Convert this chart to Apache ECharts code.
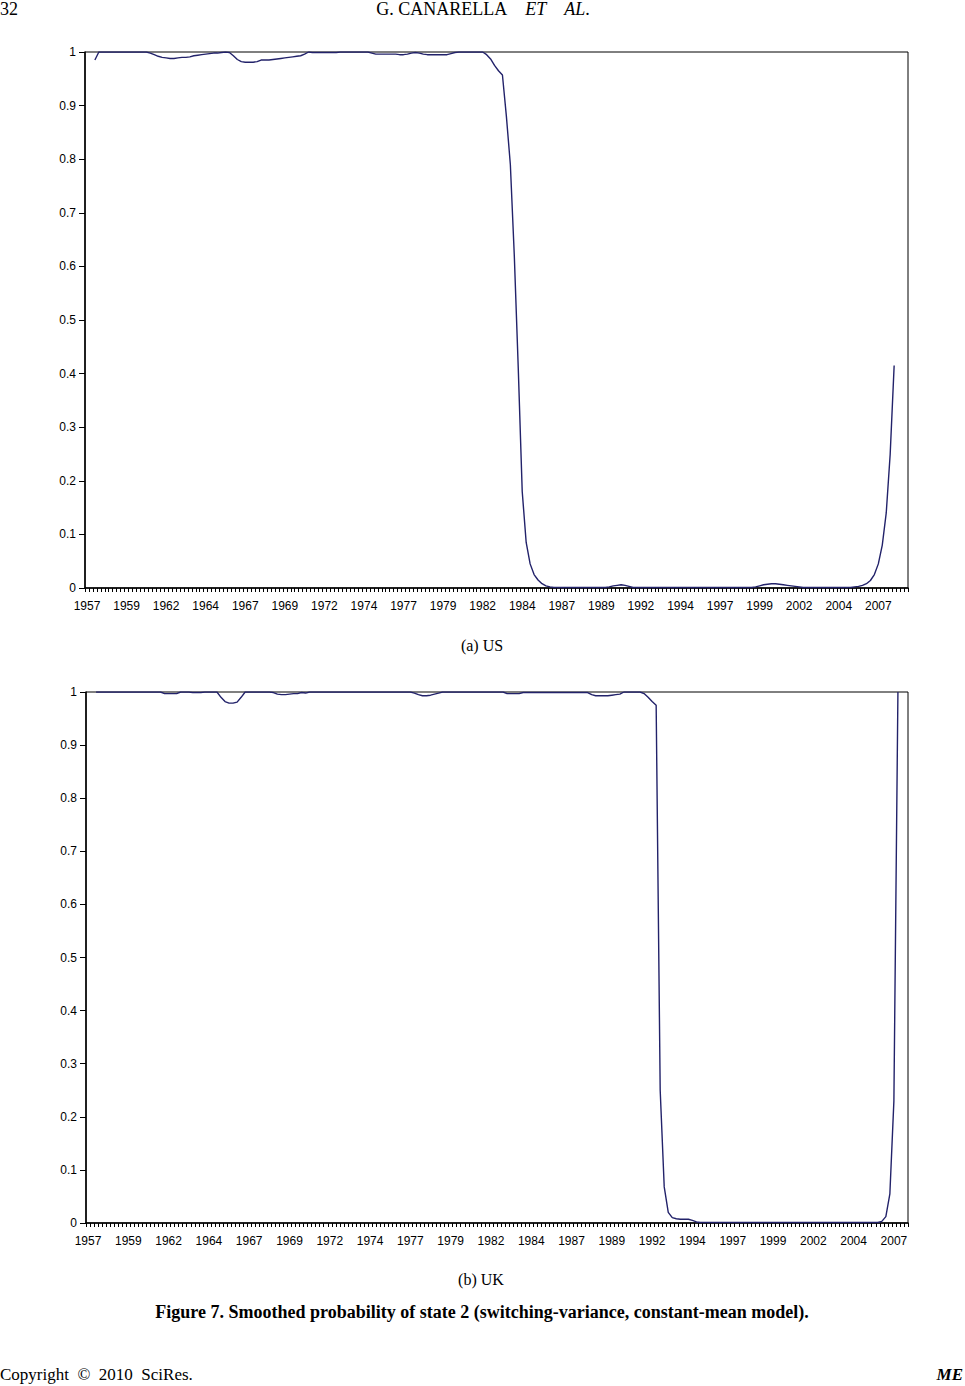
<!DOCTYPE html>
<html>
<head>
<meta charset="utf-8">
<script src="https://cdn.jsdelivr.net/npm/echarts@6/dist/echarts.min.js"></script>
<style>
  html, body { margin: 0; padding: 0; background: #fff; }
  #page { position: relative; width: 965px; height: 1386px; overflow: hidden; }
  #chart { position: absolute; left: 0; top: 0; width: 965px; height: 1386px; }
  .txt { position: absolute; font-family: "Liberation Serif", "DejaVu Serif", serif; color: #000; white-space: nowrap; }
</style>
</head>
<body>
<div id="page">
  <div id="chart"></div>
  <div class="txt" style="left:0px; top:-1px; font-size:18px;">32</div>
  <div class="txt" style="left:483px; top:-1px; font-size:18px; transform:translateX(-50%);">G. CANARELLA&nbsp;&nbsp;&nbsp;&nbsp;<i>ET</i>&nbsp;&nbsp;&nbsp;&nbsp;<i>AL</i>.</div>
  <div class="txt" style="left:482px; top:637px; font-size:16px; transform:translateX(-50%);">(a) US</div>
  <div class="txt" style="left:481px; top:1271px; font-size:16px; transform:translateX(-50%);">(b) UK</div>
  <div class="txt" style="left:482px; top:1302px; font-size:18px; font-weight:bold; transform:translateX(-50%);">Figure 7. Smoothed probability of state 2 (switching-variance, constant-mean model).</div>
  <div class="txt" style="left:0px; top:1365px; font-size:17px;">Copyright&nbsp;&nbsp;©&nbsp;&nbsp;2010&nbsp;&nbsp;SciRes.</div>
  <div class="txt" style="right:2px; top:1365px; font-size:17px; font-weight:bold; font-style:italic;">ME</div>
</div>
<script>
// quarterly categories: US 1957Q1-2008Q4, UK 1957Q1-2007Q4
var quartersUS = [];
for (var y = 1957; y <= 2008; y++) for (var q = 1; q <= 4; q++) quartersUS.push(y + 'Q' + q);
var quartersUK = quartersUS.slice(0, 204);

var yTicks = [0, 0.1, 0.2, 0.3, 0.4, 0.5, 0.6, 0.7, 0.8, 0.9, 1];

// (a) US smoothed probability, one row per year (4 quarters)
var probUS = [
  null, null, 0.985, 1,
  1, 1, 1, 1,
  1, 1, 1, 1,
  1, 1, 1, 1.0,
  0.998, 0.995, 0.992, 0.99,
  0.989, 0.988, 0.988, 0.989,
  0.99, 0.99, 0.991, 0.993,
  0.994, 0.995, 0.996, 0.997,
  0.998, 0.998, 0.999, 1.0,
  0.999, 0.993, 0.986, 0.982,
  0.981, 0.981, 0.981, 0.982,
  0.985, 0.985, 0.985, 0.986,
  0.987, 0.988, 0.989, 0.99,
  0.991, 0.992, 0.993, 0.996,
  1.0, 0.999, 0.999, 0.999,
  0.999, 0.999, 0.999, 0.999,
  1, 1, 1, 1,
  1, 1, 1, 1,
  0.998, 0.996, 0.996, 0.996,
  0.996, 0.996, 0.996, 0.995,
  0.995, 0.996, 0.998, 0.999,
  0.998, 0.996, 0.995, 0.995,
  0.995, 0.995, 0.995, 0.995,
  0.997, 0.999, 1, 1,
  1, 1, 1, 1,
  1.0, 0.995, 0.987, 0.975,
  0.965, 0.957, 0.88, 0.79,
  0.62, 0.41, 0.18, 0.085,
  0.045, 0.025, 0.015, 0.008,
  0.004, 0.002, 0.001, 0.001,
  0.001, 0.001, 0.001, 0.001,
  0.001, 0.001, 0.001, 0.001,
  0.001, 0.001, 0.001, 0.001,
  0.002, 0.004, 0.005, 0.006,
  0.005, 0.003, 0.001, 0.001,
  0.001, 0.001, 0.001, 0.001,
  0.001, 0.001, 0.001, 0.001,
  0.001, 0.001, 0.001, 0.001,
  0.001, 0.001, 0.001, 0.001,
  0.001, 0.001, 0.001, 0.001,
  0.001, 0.001, 0.001, 0.001,
  0.001, 0.001, 0.001, 0.001,
  0.001, 0.002, 0.004, 0.006,
  0.007, 0.008, 0.008, 0.007,
  0.006, 0.005, 0.004, 0.003,
  0.002, 0.001, 0.001, 0.001,
  0.001, 0.001, 0.001, 0.001,
  0.001, 0.001, 0.001, 0.001,
  0.001, 0.001, 0.002, 0.003,
  0.005, 0.008, 0.014, 0.025,
  0.045, 0.08, 0.14, 0.25,
  0.415, null, null, null
];

// (b) UK smoothed probability
var probUK = [
  null, null, 1, 1,
  1, 1, 1, 1,
  1, 1, 1, 1,
  1, 1, 1, 1,
  1, 1, 1, 0.997,
  0.997, 0.997, 0.997, 1,
  1, 1, 0.999, 0.999,
  0.999, 1, 1, 1,
  1.0, 0.99, 0.982, 0.979,
  0.979, 0.981, 0.99, 1.0,
  1, 1, 1, 1,
  1, 1, 0.999, 0.996,
  0.995, 0.995, 0.996, 0.997,
  0.997, 0.999, 0.998, 1,
  1, 1, 1, 1,
  1, 1, 1, 1,
  1, 1, 1, 1,
  1, 1, 1, 1,
  1, 1, 1, 1,
  1, 1, 1, 1,
  1, 0.998, 0.995, 0.993,
  0.993, 0.994, 0.996, 0.998,
  1, 1, 1, 1,
  1, 1, 1, 1,
  1, 1, 1, 1,
  1, 1, 1, 1,
  0.997, 0.997, 0.997, 0.997,
  0.999, 0.999, 0.999, 0.999,
  0.999, 0.999, 0.999, 0.999,
  0.999, 0.999, 0.999, 0.999,
  0.999, 0.999, 0.999, 0.999,
  0.999, 0.995, 0.993, 0.993,
  0.993, 0.993, 0.994, 0.995,
  0.996, 1.0, 1, 1,
  1, 1, 0.997, 0.99,
  0.982, 0.975, 0.25, 0.068,
  0.02, 0.01, 0.008, 0.007,
  0.007, 0.007, 0.005, 0.002,
  0.001, 0.001, 0.001, 0.001,
  0.001, 0.001, 0.001, 0.001,
  0.001, 0.001, 0.001, 0.001,
  0.001, 0.001, 0.001, 0.001,
  0.001, 0.001, 0.001, 0.001,
  0.001, 0.001, 0.001, 0.001,
  0.001, 0.001, 0.001, 0.001,
  0.001, 0.001, 0.001, 0.001,
  0.001, 0.001, 0.001, 0.001,
  0.001, 0.001, 0.001, 0.001,
  0.001, 0.001, 0.001, 0.001,
  0.001, 0.003, 0.012, 0.055,
  0.23, 1.0, null, null
];

var lineColor = '#22226a';
var labelFont = { color: '#000', fontSize: 12, fontFamily: 'Liberation Sans, Arial, sans-serif' };

function xAxisFor(cats, gridIdx) {
  return {
    type: 'category', gridIndex: gridIdx, data: cats, boundaryGap: true,
    axisLine: { show: true, lineStyle: { color: '#000', width: 1.5 } },
    axisTick: { show: true, interval: 0, length: 4, lineStyle: { color: '#000', width: 1 } },
    axisLabel: Object.assign({ interval: 9, margin: 12, formatter: function (v) { return v.slice(0, 4); } }, labelFont),
    splitLine: { show: false }
  };
}
function yAxisFor(gridIdx) {
  return {
    type: 'value', gridIndex: gridIdx, min: 0, max: 1, interval: 0.1,
    axisLine: { show: true, lineStyle: { color: '#000', width: 1.5 } },
    axisTick: { show: true, length: 6, lineStyle: { color: '#000', width: 1 } },
    axisLabel: Object.assign({ margin: 9, formatter: function (v) { return String(Math.round(v * 10) / 10); } }, labelFont),
    splitLine: { show: false }
  };
}

var chart = echarts.init(document.getElementById('chart'), null, { renderer: 'svg' });
chart.setOption({
  animation: false,
  backgroundColor: 'transparent',
  grid: [
    { left: 85, top: 52, width: 823, height: 536, show: true, borderColor: '#000', borderWidth: 1, backgroundColor: 'transparent' },
    { left: 86, top: 692, width: 822, height: 531, show: true, borderColor: '#000', borderWidth: 1, backgroundColor: 'transparent' }
  ],
  xAxis: [xAxisFor(quartersUS, 0), xAxisFor(quartersUK, 1)],
  yAxis: [yAxisFor(0), yAxisFor(1)],
  series: [
    { type: 'line', xAxisIndex: 0, yAxisIndex: 0, data: probUS, showSymbol: false, symbol: 'none',
      lineStyle: { color: lineColor, width: 1.4 } },
    { type: 'line', xAxisIndex: 1, yAxisIndex: 1, data: probUK, showSymbol: false, symbol: 'none',
      lineStyle: { color: lineColor, width: 1.4 } }
  ]
});
</script>
</body>
</html>
